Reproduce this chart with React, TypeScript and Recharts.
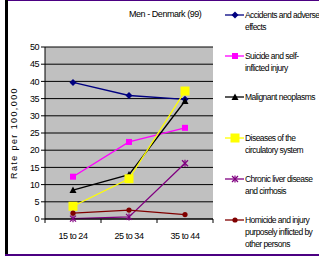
import React from 'react';
import { LineChart, Line, XAxis, YAxis, CartesianGrid, Label } from 'recharts';

const ageGroups = ['15 to 24', '25 to 34', '35 to 44'];
const accidents = [39.7, 35.9, 34.8];
const suicide = [12.3, 22.4, 26.5];
const malignant = [8.4, 12.9, 34.3];
const circulatory = [3.7, 11.7, 37.2];
const liver = [0.1, 0.6, 16.2];
const homicide = [1.7, 2.6, 1.3];
const yTicks = [0, 5, 10, 15, 20, 25, 30, 35, 40, 45, 50];

const FONT = '"Liberation Sans", Arial, sans-serif';
const SQUEEZE = -0.45;

const series = [
    { key: 'accidents', name: 'Accidents and adverse effects', color: '#000080', shape: 'diamond', values: accidents },
    { key: 'suicide', name: 'Suicide and self-inflicted injury', color: '#ff00ff', shape: 'square', values: suicide },
    { key: 'malignant', name: 'Malignant neoplasms', color: '#000000', shape: 'triangle', values: malignant },
    { key: 'circulatory', name: 'Diseases of the circulatory system', color: '#ffff00', shape: 'bigsquare', values: circulatory },
    { key: 'liver', name: 'Chronic liver disease and cirrhosis', color: '#800080', shape: 'star', values: liver },
    { key: 'homicide', name: 'Homicide and injury purposely inflicted by other persons', color: '#800000', shape: 'circle', values: homicide },
];

const data = ageGroups.map((age, i) => {
    const row: any = { age };
    series.forEach((s) => { row[s.key] = s.values[i]; });
    return row;
});

const Marker = ({ shape, color, cx, cy }: { shape: string; color: string; cx: number; cy: number }) => {
    if (shape === 'diamond')
        return <polygon points={`${cx},${cy - 3.5} ${cx + 3.5},${cy} ${cx},${cy + 3.5} ${cx - 3.5},${cy}`} fill={color} />;
    if (shape === 'square') return <rect x={cx - 3} y={cy - 3} width={6} height={6} fill={color} />;
    if (shape === 'bigsquare') return <rect x={cx - 4.5} y={cy - 4.5} width={9} height={9} fill={color} />;
    if (shape === 'triangle')
        return <polygon points={`${cx},${cy - 3.5} ${cx + 3.5},${cy + 3} ${cx - 3.5},${cy + 3}`} fill={color} />;
    if (shape === 'star')
        return (
            <g stroke={color} strokeWidth={1.2}>
                <line x1={cx - 3} y1={cy - 3} x2={cx + 3} y2={cy + 3} />
                <line x1={cx - 3} y1={cy + 3} x2={cx + 3} y2={cy - 3} />
                <line x1={cx} y1={cy - 3.5} x2={cx} y2={cy + 3.5} />
            </g>
        );
    return <circle cx={cx} cy={cy} r={2.6} fill={color} />;
};

const XTick = (props: any) => {
    const { x, y, payload, index } = props;
    const half = 28;
    return (
        <g>
            {index === 0 && <line x1={x - half} y1={y - 8} x2={x - half} y2={y - 4} stroke="#000" />}
            <line x1={x + half} y1={y - 8} x2={x + half} y2={y - 4} stroke="#000" />
            <text x={x} y={y + 12} textAnchor="middle" fontSize={9} fontFamily={FONT} letterSpacing={SQUEEZE} fill="#000">
                {payload.value}
            </text>
        </g>
    );
};

const ChartLegend = () => (
    <div
        style={{
            position: 'absolute',
            left: 225,
            top: 9,
            width: 96,
            fontFamily: FONT,
            fontSize: 8.5,
            letterSpacing: -0.55,
            lineHeight: '12px',
        }}
    >
        {series.map((s) => (
            <div key={s.key} style={{ position: 'relative', height: 41, paddingLeft: 20 }}>
                <svg width={20} height={12} style={{ position: 'absolute', left: 0, top: 0 }}>
                    <line x1={0} y1={6} x2={19} y2={6} stroke={s.color} strokeWidth={1.3} />
                    <Marker shape={s.shape} color={s.color} cx={10} cy={6} />
                </svg>
                <span>{s.name}</span>
            </div>
        ))}
    </div>
);

const App: React.FC = () => {
    return (
        <div style={{ position: 'relative', width: 319, height: 257, background: '#fff', overflow: 'hidden' }}>
            <style>{`body{margin:0}`}</style>
            <div style={{ position: 'absolute', left: 5, top: 0, width: 3, height: 256, background: '#000' }} />
            <div style={{ position: 'absolute', left: 8, top: 0, width: 311, height: 1, background: '#4b0082' }} />
            <div style={{ position: 'absolute', left: 5, top: 254, width: 314, height: 2, background: '#4b0082' }} />
            <div style={{ position: 'absolute', left: 129, top: 9, fontFamily: FONT, fontSize: 9, letterSpacing: SQUEEZE }}>
                Men - Denmark (99)
            </div>
            <LineChart width={319} height={257} data={data} margin={{ top: 47, right: 106, bottom: 0, left: 0 }}>
                <CartesianGrid vertical={false} stroke="#000" fill="#c0c0c0" />
                <XAxis
                    dataKey="age"
                    padding={{ left: 28, right: 28 }}
                    axisLine={{ stroke: '#000' }}
                    tickLine={false}
                    tick={<XTick />}
                    height={38}
                    interval={0}
                />
                <YAxis
                    domain={[0, 50]}
                    ticks={yTicks}
                    width={45}
                    axisLine={{ stroke: '#000' }}
                    tickLine={{ stroke: '#000' }}
                    tickSize={4}
                    tick={{ fontSize: 9, fontFamily: FONT, fill: '#000', letterSpacing: SQUEEZE }}
                    interval={0}
                >
                    <Label
                        value="Rate per 100,000"
                        angle={-90}
                        position="insideLeft"
                        offset={14}
                        style={{ fontSize: 9, fontFamily: FONT, fill: '#000', letterSpacing: 1.4, textAnchor: 'middle' }}
                    />
                </YAxis>
                {series.map((s) => (
                    <Line
                        key={s.key}
                        dataKey={s.key}
                        name={s.name}
                        stroke={s.color}
                        strokeWidth={1.3}
                        isAnimationActive={false}
                        dot={(p: any) => <Marker key={`${s.key}-${p.index}`} shape={s.shape} color={s.color} cx={p.cx} cy={p.cy} />}
                        activeDot={false}
                    />
                ))}
            </LineChart>
            <ChartLegend />
        </div>
    );
};

export default App;
